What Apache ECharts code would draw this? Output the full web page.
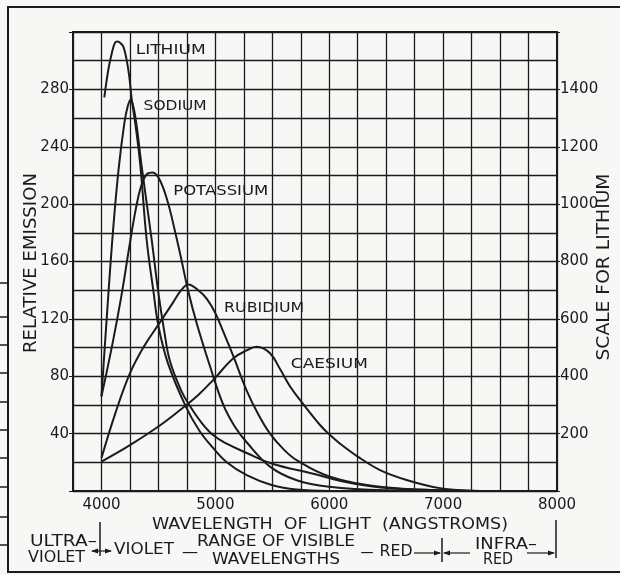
<!DOCTYPE html>
<html>
<head>
<meta charset="utf-8">
<script src="https://cdn.jsdelivr.net/npm/echarts@6/dist/echarts.min.js"></script>
<style>
  html, body { margin: 0; padding: 0; background: #f7f7f5; }
  #chart { width: 620px; height: 575px; }
</style>
</head>
<body>
<div id="chart"></div>
<script>
// wavelength (angstroms), relative emission
var lithium = [ // read on the right-hand scale (x5)
  [4025, 1372], [4060, 1468], [4090, 1525], [4119, 1563], [4142, 1567], [4165, 1562],
  [4192, 1549], [4221, 1503], [4244, 1445], [4266, 1364], [4300, 1272],
  [4340, 1140], [4397, 875], [4455, 700], [4500, 575], [4584, 445], [4742, 293],
  [4860, 210], [4980, 150], [5100, 100], [5275, 55], [5500, 20], [5714, 5], [6000, 0]
];
var sodium = [
  [4000, 66], [4050, 125], [4100, 180], [4150, 224], [4200, 256], [4230, 268], [4257, 273],
  [4280, 268], [4310, 254], [4350, 228], [4441, 175], [4500, 138], [4550, 112], [4600, 91],
  [4700, 70], [4775, 59.5], [4875, 48], [4980, 39], [5100, 33], [5275, 26.5], [5500, 19],
  [5860, 12], [6100, 7], [6450, 2.5], [7000, 0.5], [7400, 0]
];
var potassium = [
  [4000, 66], [4100, 104], [4175, 136], [4240, 168], [4300, 196], [4350, 213], [4400, 221],
  [4450, 222], [4511, 217], [4580, 202], [4643, 182], [4700, 162], [4760, 140], [4836, 117],
  [4953, 87], [5070, 60], [5170, 45], [5275, 34], [5480, 17], [5714, 7.5], [6000, 3],
  [6500, 0.5], [7000, 0]
];
var rubidium = [
  [4000, 23], [4125, 55], [4250, 82], [4375, 101], [4500, 116], [4625, 131], [4700, 140],
  [4762, 144], [4850, 140], [4925, 134], [5000, 124], [5075, 110], [5158, 94], [5275, 70],
  [5380, 53], [5480, 40], [5600, 29], [5714, 21.5], [6007, 10], [6446, 3], [7000, 0.5], [7500, 0]
];
var caesium = [
  [4000, 20.5], [4250, 32], [4500, 45], [4690, 56.5], [4850, 67], [4982, 77.5], [5158, 92.5],
  [5275, 98], [5363, 100.5], [5480, 96], [5568, 85], [5655, 73], [5743, 63.5], [5919, 46],
  [6000, 39.5], [6095, 33], [6250, 24], [6446, 14.6], [6680, 7.7], [6973, 2], [7300, 0]
];
// label, left edge (angstroms), centre (relative emission)
var curveLabels = [
  ['LITHIUM', 4300, 307], ['SODIUM', 4370, 268], ['POTASSIUM', 4630, 209],
  ['RUBIDIUM', 5077, 127], ['CAESIUM', 5663, 88]
];
var xTicks = [4000, 5000, 6000, 7000, 8000];

var ink = '#1b1b1b';
var font = 'DejaVu Sans';

var chart = echarts.init(document.getElementById('chart'));

function line(name, data, yIndex) {
  return {
    name: name, type: 'line', data: data, yAxisIndex: yIndex || 0,
    smooth: 0.4, symbol: 'none', silent: true,
    lineStyle: { color: ink, width: 2 }
  };
}

var option = {
  backgroundColor: '#f7f7f5',
  animation: false,
  grid: { left: 73, right: 63, top: 32, bottom: 84, show: true, borderColor: ink, borderWidth: 2 },
  xAxis: {
    type: 'value', min: 3750, max: 8000, interval: 250,
    axisLine: { lineStyle: { color: ink, width: 2 } },
    axisTick: { show: false },
    splitLine: { lineStyle: { color: ink, width: 1.3 } },
    axisLabel: {
      color: ink, fontFamily: font, fontSize: 15, margin: 7,
      formatter: function (v) { return xTicks.indexOf(v) >= 0 ? String(v) : ''; }
    }
  },
  yAxis: [{
    type: 'value', min: 0, max: 320, interval: 40,
    axisLine: { show: true, lineStyle: { color: ink, width: 2 } },
    axisTick: { show: true, length: 4, lineStyle: { color: ink } },
    splitLine: { lineStyle: { color: ink, width: 1.3 } },
    minorSplitLine: { show: true, lineStyle: { color: ink, width: 1.3 } },
    minorTick: { show: false, splitNumber: 2 },
    axisLabel: {
      color: ink, fontFamily: font, fontSize: 15, margin: 4,
      formatter: function (v) { return (v === 0 || v === 320) ? '' : String(v); }
    }
  }, {
    type: 'value', min: 0, max: 1600, interval: 200, position: 'right',
    axisLine: { show: true, lineStyle: { color: ink, width: 2 } },
    axisTick: { show: true, length: 3, lineStyle: { color: ink } },
    splitLine: { show: false },
    axisLabel: {
      color: ink, fontFamily: font, fontSize: 15, margin: 3,
      formatter: function (v) { return (v === 0 || v === 1600) ? '' : String(v); }
    }
  }],
  series: [
    line('Lithium', lithium, 1),
    line('Sodium', sodium),
    line('Potassium', potassium),
    line('Rubidium', rubidium),
    line('Caesium', caesium)
  ]
};
chart.setOption(option);

// the printed lettering is widely spaced, so each text is stretched to its measured width
var measure = document.createElement('canvas').getContext('2d');
function txt(s, x, y, size, width, opts) {
  opts = opts || {};
  var f = size + 'px "' + font + '"';
  measure.font = f;
  var sx = width ? width / measure.measureText(s).width : 1;
  return {
    type: 'text', x: x, y: y, rotation: opts.rotation || 0, scaleX: sx, silent: true,
    style: { text: s, fill: ink, font: f, textAlign: opts.align || 'left', textVerticalAlign: 'middle' }
  };
}
function seg(x1, y1, x2, y2, w) {
  return { type: 'line', silent: true, shape: { x1: x1, y1: y1, x2: x2, y2: y2 }, style: { stroke: ink, lineWidth: w || 1.5 } };
}
function head(x, y, dir) {
  return { type: 'polygon', silent: true, shape: { points: [[x, y], [x - dir * 7, y - 2.5], [x - dir * 7, y + 2.5]] }, style: { fill: ink } };
}

var g = [];
// outer frame of the figure, and the edge of the neighbouring figure
g.push({ type: 'rect', silent: true, shape: { x: 8, y: 7, width: 640, height: 565 }, style: { fill: null, stroke: ink, lineWidth: 2 } });
[283, 317, 345, 373, 402, 430, 458, 487, 517, 545].forEach(function (y) { g.push(seg(0, y, 7, y, 1.5)); });

var labelWidths = { LITHIUM: 70, SODIUM: 63, POTASSIUM: 95, RUBIDIUM: 80, CAESIUM: 77 };
curveLabels.forEach(function (c) {
  var p = chart.convertToPixel({ gridIndex: 0 }, [c[1], c[2]]);
  g.push(txt(c[0], p[0], p[1], 14, labelWidths[c[0]]));
});
// axis titles
g.push(txt('RELATIVE EMISSION', 32, 263, 17, 180, { rotation: Math.PI / 2, align: 'center' }));
g.push(txt('SCALE FOR LITHIUM', 605, 267, 17, 187, { rotation: Math.PI / 2, align: 'center' }));
g.push(txt('WAVELENGTH  OF  LIGHT  (ANGSTROMS)', 330, 525, 15, 356, { align: 'center' }));
// spectrum bands under the axis
g.push(txt('ULTRA\u2013', 30, 542, 15, 67));
g.push(txt('VIOLET', 28, 558, 15, 57));
g.push(txt('VIOLET', 114, 550, 15, 60));
g.push(txt('\u2014', 190, 553, 15, 16, { align: 'center' }));
g.push(txt('RANGE OF VISIBLE', 276, 542, 15, 158, { align: 'center' }));
g.push(txt('WAVELENGTHS', 276, 560, 15, 128, { align: 'center' }));
g.push(txt('\u2014', 367, 553, 15, 13, { align: 'center' }));
g.push(txt('RED', 396, 552, 15, 33, { align: 'center' }));
g.push(txt('INFRA\u2013', 506, 545, 15, 62, { align: 'center' }));
g.push(txt('RED', 498, 560, 15, 30, { align: 'center' }));
g.push(seg(100, 522, 100, 556));
g.push(seg(442, 538, 442, 562));
g.push(seg(556, 520, 556, 558));
g.push(seg(92, 551, 111, 551, 1.2), head(112, 551, 1), head(91, 551, -1));
g.push(seg(414, 553, 440, 553, 1.2), head(441, 553, 1));
g.push(seg(444, 553, 470, 553, 1.2), head(443, 553, -1));
g.push(seg(527, 553, 554, 553, 1.2), head(555, 553, 1));
chart.setOption({ graphic: g });
</script>
</body>
</html>
